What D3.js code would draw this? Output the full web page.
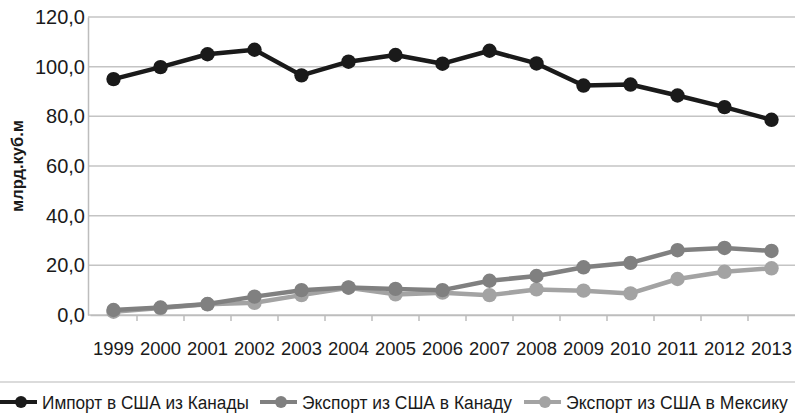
<!DOCTYPE html>
<html>
<head>
<meta charset="utf-8">
<script src="https://cdn.jsdelivr.net/npm/d3@7"></script>
<style>
  html, body { margin: 0; padding: 0; background: #fff; }
  svg { display: block; }
</style>
</head>
<body>
<svg id="chart" width="795" height="417"></svg>
<script>
// Gas trade volumes, billion cubic metres
const years = ["1999","2000","2001","2002","2003","2004","2005","2006","2007","2008","2009","2010","2011","2012","2013"];
const importFromCanada = [95.0, 99.8, 105.0, 106.8, 96.5, 102.0, 104.7, 101.2, 106.4, 101.3, 92.4, 92.8, 88.4, 83.7, 78.6];
const exportToCanada   = [2.0, 3.0, 4.4, 7.4, 10.0, 11.1, 10.5, 10.0, 13.8, 15.7, 19.2, 21.0, 26.1, 27.0, 25.8];
const exportToMexico   = [1.3, 2.8, 4.3, 4.9, 8.0, 11.0, 8.3, 9.0, 8.0, 10.3, 9.8, 8.7, 14.5, 17.4, 18.8];
const yTicks = [0, 20, 40, 60, 80, 100, 120];
const seriesNames = ["Импорт в США из Канады", "Экспорт из США в Канаду", "Экспорт из США в Мексику"];
const yTitle = "млрд.куб.м";

const series = [
  { name: seriesNames[0], values: importFromCanada, color: "#1a1a1a" },
  { name: seriesNames[1], values: exportToCanada,   color: "#808080" },
  { name: seriesNames[2], values: exportToMexico,   color: "#a3a3a3" }
];

const svg = d3.select("#chart");
const margin = { left: 88, right: 0, top: 17, bottom: 102 };
const W = 795, H = 417;

const x = d3.scaleBand().domain(years).range([margin.left + 2, W]).padding(0);
const y = d3.scaleLinear().domain([0, 120]).range([H - margin.bottom, margin.top]);

const sans = "'Liberation Sans', Arial, sans-serif";

// squeeze a text element horizontally to a given width, anchored at its start
function condense(sel, width, anchorX) {
  sel.each(function () {
    const w = this.getComputedTextLength();
    const k = Math.min(1, width / w);
    d3.select(this).attr("transform", `translate(${anchorX * (1 - k)},0) scale(${k},1)`);
  });
}

// horizontal grid
svg.append("g")
  .selectAll("line").data(yTicks).join("line")
  .attr("x1", margin.left).attr("x2", W)
  .attr("y1", d => y(d)).attr("y2", d => y(d))
  .attr("stroke", "#c4c4c4").attr("stroke-width", 1.5);

// y axis
const yAxis = d3.axisLeft(y).tickValues(yTicks)
  .tickFormat(d => d3.format(".1f")(d).replace(".", ","))
  .tickSize(0).tickPadding(3);
const gy = svg.append("g").attr("transform", `translate(${margin.left},0)`).call(yAxis);
gy.select(".domain").attr("stroke", "#bdbdbd").attr("stroke-width", 1.5);
gy.selectAll("text").attr("font-family", sans)
  .attr("font-size", 20).attr("fill", "#1a1a1a");

// x axis with ticks at category boundaries; condensed year labels
const gx = svg.append("g").attr("transform", `translate(0,${y(0)})`)
  .call(d3.axisBottom(x).tickSize(0).tickPadding(27));
gx.select(".domain").attr("stroke", "#bdbdbd").attr("stroke-width", 1.5);
gx.selectAll("text").attr("font-family", sans).attr("font-size", 18).attr("fill", "#1a1a1a")
  .attr("textLength", 41).attr("lengthAdjust", "spacingAndGlyphs");
gx.append("g").selectAll("line").data(years.slice(1)).join("line")
  .attr("x1", d => x(d)).attr("x2", d => x(d))
  .attr("y1", 0).attr("y2", 6)
  .attr("stroke", "#bdbdbd").attr("stroke-width", 1.5);

// y title
svg.append("text")
  .attr("transform", `translate(23,166) rotate(-90)`)
  .attr("text-anchor", "middle")
  .attr("font-family", sans).attr("font-weight", "bold")
  .attr("font-size", 16).attr("fill", "#1a1a1a")
  .attr("textLength", 92).attr("lengthAdjust", "spacingAndGlyphs")
  .text(yTitle);

// lines and markers (lightest series underneath)
const line = d3.line().x((d, i) => x(years[i]) + x.bandwidth() / 2).y(d => y(d));
[...series].reverse().forEach(s => {
  const g = svg.append("g");
  g.append("path").datum(s.values).attr("d", line)
    .attr("fill", "none").attr("stroke", s.color).attr("stroke-width", 4.5)
    .attr("stroke-linejoin", "round");
  g.selectAll("circle").data(s.values).join("circle")
    .attr("cx", (d, i) => x(years[i]) + x.bandwidth() / 2)
    .attr("cy", d => y(d)).attr("r", 7.2).attr("fill", s.color);
});

// legend separator
svg.append("line").attr("x1", 0).attr("x2", W).attr("y1", 382).attr("y2", 382)
  .attr("stroke", "#cfcfcf").attr("stroke-width", 1.5);

// legend
const legendX = [0, 260, 524];
const legendLen = [207, 210, 222];
const lg = svg.append("g").selectAll("g").data(series).join("g")
  .attr("transform", (d, i) => `translate(${legendX[i]},402)`);
lg.append("line").attr("x1", 0).attr("x2", 37).attr("y1", 0).attr("y2", 0)
  .attr("stroke", d => d.color).attr("stroke-width", 4);
lg.append("circle").attr("cx", 21).attr("cy", 0).attr("r", 6).attr("fill", d => d.color);
lg.append("text").attr("x", 42).attr("y", 7)
  .attr("font-family", sans).attr("font-size", 19).attr("fill", "#1a1a1a")
  .text(d => d.name)
  .each(function (d, i) { condense(d3.select(this), legendLen[i], 42); });
</script>
</body>
</html>
